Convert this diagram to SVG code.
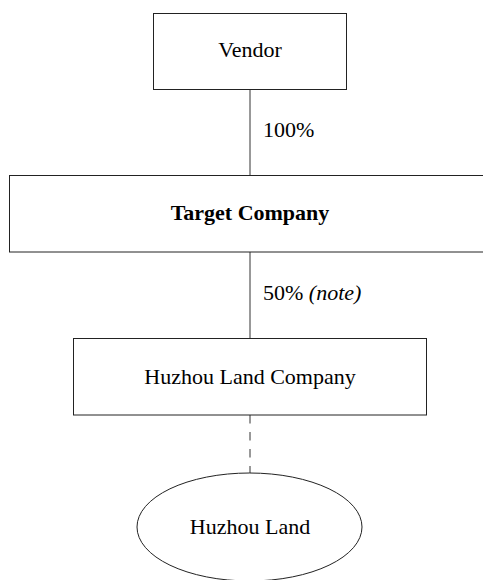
<svg xmlns="http://www.w3.org/2000/svg" width="483" height="580" viewBox="0 0 483 580">
<style>
.box{fill:#fff;stroke:#222;stroke-width:1}
.ln{stroke:#333;stroke-width:1;fill:none}
.t{font-family:"Liberation Serif","Times New Roman",serif;font-size:22px;fill:#000}
</style>
<rect width="483" height="580" fill="#fff"/>
<g id="connectors">
<line class="ln" x1="250" y1="89.5" x2="250" y2="175.5"/>
<line class="ln" x1="250" y1="252" x2="250" y2="338.5"/>
<line class="ln" x1="250" y1="415" x2="250" y2="473" stroke-dasharray="8.5,8.5"/>
<text class="t" x="263" y="137">100%</text>
<text class="t" x="263" y="300">50% <tspan font-style="italic">(note)</tspan></text>
</g>
<g id="vendor">
<rect class="box" x="153.5" y="13.5" width="193" height="76"/>
<text class="t" x="250" y="57" text-anchor="middle">Vendor</text>
</g>
<g id="target">
<rect class="box" x="9.5" y="175.5" width="482" height="76.5"/>
<text class="t" x="250" y="220" text-anchor="middle" font-weight="bold">Target Company</text>
</g>
<g id="huzhou-company">
<rect class="box" x="73.5" y="338.5" width="353" height="76.5"/>
<text class="t" x="250" y="383.5" text-anchor="middle">Huzhou Land Company</text>
</g>
<g id="huzhou-land">
<ellipse class="box" cx="249.5" cy="527" rx="112.5" ry="54"/>
<text class="t" x="250" y="534" text-anchor="middle">Huzhou Land</text>
</g>
</svg>
